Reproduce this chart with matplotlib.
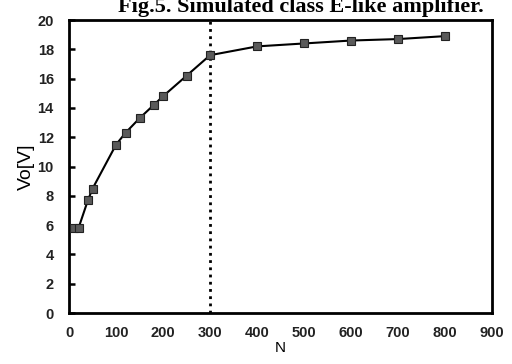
import matplotlib.pyplot as plt

# Output voltage vs. number of elements N
N = [10, 20, 40, 50, 100, 120, 150, 180, 200, 250, 300, 400, 500, 600, 700, 800]
VO = [5.8, 5.8, 7.7, 8.5, 11.5, 12.3, 13.3, 14.2, 14.8, 16.2, 17.6,
      18.2, 18.4, 18.6, 18.7, 18.9]
N_MARK = 300
XTICKS = [0, 100, 200, 300, 400, 500, 600, 700, 800, 900]
YTICKS = [0, 2, 4, 6, 8, 10, 12, 14, 16, 18, 20]

plt.rcParams["font.family"] = ["Liberation Sans", "DejaVu Sans"]

fig = plt.figure(figsize=(5.12, 3.64), dpi=100)
ax = fig.add_axes([0.135, 0.14, 0.826, 0.805])

ax.plot(N, VO, color="black", lw=1.5, marker="s", ms=6,
        mfc="#5a5a5a", mec="#222222", mew=0.8, zorder=3)
ax.axvline(N_MARK, color="black", lw=2, linestyle=(0, (1, 1.6)), zorder=2)

ax.set_xlim(0, 900)
ax.set_ylim(0, 20)
ax.set_xticks(XTICKS)
ax.set_yticks(YTICKS)
ax.tick_params(axis="x", length=0, pad=9, labelsize=10.5)
ax.tick_params(axis="y", direction="in", length=4, width=1.8, pad=11,
               labelsize=10.5)
for lab in ax.get_xticklabels() + ax.get_yticklabels():
    lab.set_fontweight("bold")
    lab.set_color("#222222")
for sp in ax.spines.values():
    sp.set_linewidth(2)

ax.set_xlabel("N", fontsize=11, labelpad=1)
ax.set_ylabel("Vo[V]", fontsize=14, labelpad=2)

fig.text(0.23, 0.966, "Fig.5. Simulated class E-like amplifier.",
         family="Liberation Serif", fontweight="bold", fontsize=16,
         ha="left", va="baseline")

fig.savefig("out.png", dpi=100)
